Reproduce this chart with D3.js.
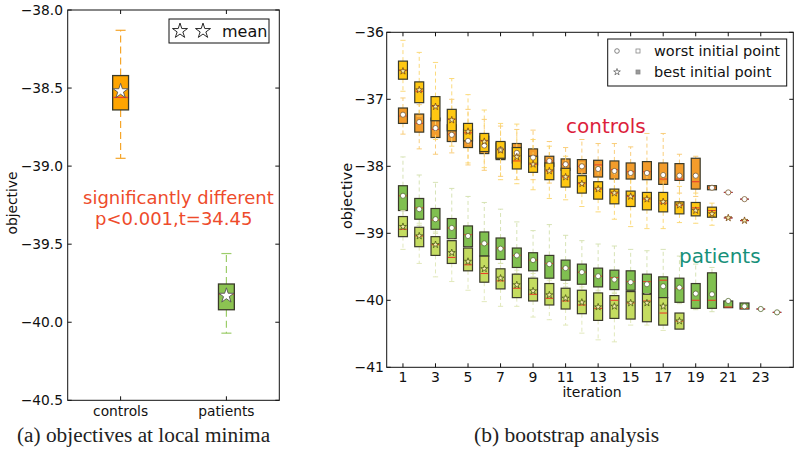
<!DOCTYPE html>
<html><head><meta charset="utf-8">
<script src="https://cdn.jsdelivr.net/npm/d3@7"></script>
<style>body{margin:0;background:#fff}svg{display:block}</style>
</head><body><svg id="c" width="800" height="454"></svg>
<script>
// ---------------- DATA ----------------
// each box: [whiskerLow, q1, median, q3, whiskerHigh, mean]
const groups = ["controls", "patients"];
const minimaControls = [-38.95, -38.64, -38.56, -38.42, -38.13, -38.52];
const minimaPatients = [-40.07, -39.92, -39.82, -39.755, -39.56, -39.83];
const leftYTicks = [-38.0, -38.5, -39.0, -39.5, -40.0, -40.5];

const rightYTicks = [-36, -37, -38, -39, -40, -41];
const iterTicks = [1, 3, 5, 7, 9, 11, 13, 15, 17, 19, 21, 23];

// controls, worst initial point (orange, circle), iterations 1..22
const controlsWorst = [
  [-37.52,-37.36,-37.25,-37.13,-36.98,-37.23],
  [-37.74,-37.49,-37.36,-37.22,-37.08,-37.34],
  [-37.82,-37.57,-37.45,-37.28,-37.05,-37.43],
  [-37.80,-37.63,-37.52,-37.38,-37.00,-37.53],
  [-37.98,-37.72,-37.62,-37.45,-37.15,-37.62],
  [-38.06,-37.81,-37.68,-37.55,-37.30,-37.69],
  [-38.15,-37.90,-37.76,-37.65,-37.40,-37.75],
  [-38.20,-37.95,-37.80,-37.66,-37.45,-37.80],
  [-38.20,-37.98,-37.85,-37.74,-37.46,-37.87],
  [-38.25,-38.00,-37.92,-37.85,-37.63,-37.92],
  [-38.30,-38.06,-37.97,-37.89,-37.72,-37.97],
  [-38.30,-38.11,-38.00,-37.90,-37.60,-38.00],
  [-38.30,-38.16,-37.98,-37.91,-37.66,-38.04],
  [-38.35,-38.19,-38.05,-37.92,-37.66,-38.07],
  [-38.40,-38.19,-38.08,-37.95,-37.71,-38.10],
  [-38.40,-38.20,-38.08,-37.93,-37.51,-38.10],
  [-38.45,-38.27,-38.19,-37.95,-37.51,-38.13],
  [-38.40,-38.21,-38.19,-37.96,-37.82,-38.14],
  [-38.45,-38.34,-38.23,-37.88,-37.85,-38.14],
  [-38.35,-38.35,-38.32,-38.29,-38.29,-38.32],
  [-38.39,-38.39,-38.39,-38.39,-38.39,-38.39],
  [-38.49,-38.49,-38.49,-38.49,-38.49,-38.49]
];
// controls, best initial point (gold, star), iterations 1..22
const controlsBest = [
  [-36.88,-36.70,-36.57,-36.43,-36.12,-36.58],
  [-37.25,-37.05,-36.88,-36.74,-36.30,-36.86],
  [-37.60,-37.32,-37.10,-36.96,-36.45,-37.11],
  [-37.70,-37.47,-37.30,-37.15,-36.69,-37.31],
  [-37.95,-37.62,-37.50,-37.36,-36.93,-37.48],
  [-38.02,-37.78,-37.62,-37.51,-37.16,-37.63],
  [-38.20,-37.88,-37.75,-37.63,-37.36,-37.76],
  [-38.26,-38.04,-37.92,-37.72,-37.37,-37.86],
  [-38.35,-38.09,-37.97,-37.85,-37.60,-37.97],
  [-38.48,-38.20,-38.07,-37.95,-37.70,-38.07],
  [-38.50,-38.31,-38.16,-38.03,-37.85,-38.16],
  [-38.60,-38.40,-38.26,-38.14,-37.95,-38.26],
  [-38.68,-38.49,-38.34,-38.23,-38.00,-38.34],
  [-38.79,-38.56,-38.40,-38.34,-38.10,-38.40],
  [-38.90,-38.60,-38.45,-38.37,-38.10,-38.45],
  [-38.93,-38.65,-38.49,-38.39,-38.10,-38.49],
  [-38.93,-38.68,-38.55,-38.39,-38.10,-38.53],
  [-38.84,-38.71,-38.58,-38.53,-38.30,-38.58],
  [-38.85,-38.74,-38.62,-38.54,-38.40,-38.66],
  [-38.88,-38.76,-38.66,-38.61,-38.55,-38.71],
  [-38.77,-38.77,-38.77,-38.77,-38.77,-38.77],
  [-38.81,-38.81,-38.81,-38.81,-38.81,-38.81]
];
// patients, worst initial point (green, circle), iterations 1..24
const patientsWorst = [
  [-38.75,-38.66,-38.44,-38.29,-37.86,-38.44],
  [-38.88,-38.79,-38.62,-38.48,-38.13,-38.64],
  [-39.00,-38.94,-38.80,-38.63,-38.24,-38.79],
  [-39.10,-39.08,-38.92,-38.78,-38.33,-38.92],
  [-39.21,-39.20,-39.02,-38.89,-38.45,-39.04],
  [-39.34,-39.34,-39.16,-38.98,-38.54,-39.15],
  [-39.45,-39.39,-39.22,-39.07,-38.64,-39.23],
  [-39.60,-39.51,-39.33,-39.22,-38.83,-39.33],
  [-39.65,-39.56,-39.40,-39.29,-38.96,-39.40],
  [-39.75,-39.67,-39.45,-39.33,-38.87,-39.46],
  [-39.80,-39.70,-39.52,-39.40,-39.03,-39.52],
  [-39.85,-39.76,-39.58,-39.46,-39.11,-39.58],
  [-39.88,-39.80,-39.64,-39.52,-39.16,-39.64],
  [-39.90,-39.84,-39.66,-39.55,-39.19,-39.69],
  [-39.87,-39.85,-39.72,-39.56,-39.24,-39.73],
  [-39.90,-39.90,-39.72,-39.61,-39.26,-39.76],
  [-39.96,-39.96,-39.70,-39.65,-39.24,-39.79],
  [-40.05,-40.03,-39.82,-39.67,-39.34,-39.81],
  [-40.14,-40.12,-40.00,-39.75,-39.46,-39.90],
  [-40.17,-40.12,-40.00,-39.59,-39.51,-39.91],
  [-40.11,-40.11,-40.10,-40.01,-40.01,-40.01],
  [-40.13,-40.13,-40.12,-40.04,-40.04,-40.09],
  [-40.13,-40.13,-40.13,-40.13,-40.13,-40.13],
  [-40.18,-40.18,-40.18,-40.18,-40.18,-40.18]
];
// patients, best initial point (light green, star), iterations 1..18
const patientsBest = [
  [-39.24,-39.05,-38.94,-38.75,-38.66,-38.90],
  [-39.45,-39.20,-39.04,-38.91,-38.85,-39.04],
  [-39.65,-39.33,-39.17,-39.05,-38.98,-39.17],
  [-39.72,-39.45,-39.36,-39.11,-39.09,-39.29],
  [-39.85,-39.56,-39.47,-39.22,-39.21,-39.42],
  [-40.02,-39.73,-39.60,-39.34,-39.34,-39.53],
  [-40.09,-39.83,-39.71,-39.53,-39.45,-39.67],
  [-40.09,-39.96,-39.82,-39.61,-39.55,-39.77],
  [-40.25,-40.01,-39.91,-39.67,-39.60,-39.86],
  [-40.29,-40.07,-39.97,-39.75,-39.70,-39.92],
  [-40.37,-40.13,-40.01,-39.82,-39.75,-39.97],
  [-40.49,-40.20,-40.07,-39.85,-39.80,-40.03],
  [-40.59,-40.30,-40.12,-39.89,-39.85,-40.10],
  [-40.62,-40.27,-40.00,-39.93,-39.88,-40.09],
  [-40.37,-40.28,-40.04,-39.87,-39.87,-40.04],
  [-40.37,-40.32,-40.01,-39.91,-39.90,-40.04],
  [-40.45,-40.37,-40.19,-39.96,-39.96,-40.09],
  [-40.43,-40.43,-40.31,-40.19,-40.19,-40.31]
];

// ---------------- DRAWING ----------------
const FONT = "DejaVu Sans";
const svg = d3.select("#c");
const EDGE = "#3a3a2a";
const MED = "#e8402a";

function drawBox(g, xs, ys, pos, s, st) {
  const [lo, q1, med, q3, hi] = s;
  const cx = xs(pos);
  const bw = xs(pos + st.bw / 2) - xs(pos - st.bw / 2);
  const cw = xs(pos + st.cw / 2) - xs(pos - st.cw / 2);
  const wl = (a, b) => g.append("line").attr("x1", cx).attr("x2", cx)
    .attr("y1", ys(a)).attr("y2", ys(b)).attr("stroke", st.wc)
    .attr("stroke-width", st.ww).attr("stroke-dasharray", st.dash);
  const cap = v => g.append("line").attr("x1", cx - cw / 2).attr("x2", cx + cw / 2)
    .attr("y1", ys(v)).attr("y2", ys(v)).attr("stroke", st.wc).attr("stroke-width", st.ww);
  if (hi > q3) { wl(q3, hi); cap(hi); }
  if (lo < q1) { wl(q1, lo); cap(lo); }
  const h = ys(q1) - ys(q3);
  if (h > 0.6) {
    g.append("rect").attr("x", cx - bw / 2).attr("y", ys(q3)).attr("width", bw)
      .attr("height", h).attr("fill", st.fill).attr("stroke", EDGE).attr("stroke-width", st.ew);
  } else {
    g.append("line").attr("x1", cx - bw / 2).attr("x2", cx + bw / 2)
      .attr("y1", ys(med)).attr("y2", ys(med)).attr("stroke", "#5a2a50").attr("stroke-width", 1.2);
  }
  g.append("line").attr("x1", cx - bw / 2 + 0.6).attr("x2", cx + bw / 2 - 0.6)
    .attr("y1", ys(med)).attr("y2", ys(med)).attr("stroke", MED).attr("stroke-width", st.mw);
}

function frame(g, xs, ys) {
  const [x0, x1] = xs.range(), [y0, y1] = ys.range();
  g.append("rect").attr("x", x0).attr("y", y1).attr("width", x1 - x0).attr("height", y0 - y1)
    .attr("fill", "none").attr("stroke", "#111").attr("stroke-width", 1);
}

function ticksAll(g, xs, ys, xt, yt, len) {
  const [x0, x1] = xs.range(), [y0, y1] = ys.range();
  yt.forEach(v => {
    const y = ys(v);
    g.append("line").attr("x1", x0).attr("x2", x0 + len).attr("y1", y).attr("y2", y).attr("stroke", "#111");
    g.append("line").attr("x1", x1).attr("x2", x1 - len).attr("y1", y).attr("y2", y).attr("stroke", "#111");
  });
  xt.forEach(v => {
    const x = xs(v);
    g.append("line").attr("x1", x).attr("x2", x).attr("y1", y0).attr("y2", y0 - len).attr("stroke", "#111");
    g.append("line").attr("x1", x).attr("x2", x).attr("y1", y1).attr("y2", y1 + len).attr("stroke", "#111");
  });
}

// ---------- Left panel ----------
const xL = d3.scaleLinear().domain([0.5, 2.5]).range([67.7, 279.3]);
const yL = d3.scaleLinear().domain([-40.5, -38]).range([400.3, 10]);
const gL = svg.append("g");

const leftStyles = [
  { fill: "#ffa500", wc: "#f5a52a", bw: 0.15, cw: 0.095, ww: 1.2, ew: 1.3, mw: 1.3, dash: "7,4" },
  { fill: "#8cc452", wc: "#9ccd6a", bw: 0.15, cw: 0.095, ww: 1.2, ew: 1.3, mw: 1.3, dash: "7,4" }
];
[minimaControls, minimaPatients].forEach((s, i) => drawBox(gL, xL, yL, i + 1, s, leftStyles[i]));
const star = d3.symbol().type(d3.symbolStar);
[minimaControls, minimaPatients].forEach((s, i) => {
  gL.append("path").attr("d", star.size(70)())
    .attr("transform", `translate(${xL(i + 1)},${yL(s[5])})`)
    .attr("fill", "#fff").attr("stroke", "#555").attr("stroke-width", 0.9);
});
frame(gL, xL, yL);
ticksAll(gL, xL, yL, [1, 2], leftYTicks, 4);
const fmtL = d3.format(".1f");
leftYTicks.forEach(v => gL.append("text").attr("x", 63).attr("y", yL(v)).attr("dy", "0.36em")
  .attr("text-anchor", "end").attr("font-family", FONT).attr("font-size", 13.8).attr("fill", "#111").text(fmtL(v)));
groups.forEach((gname, i) => gL.append("text").attr("x", xL(i + 1)).attr("y", 416)
  .attr("text-anchor", "middle").attr("font-family", FONT).attr("font-size", 13.8).attr("fill", "#111").text(gname));
gL.append("text").attr("transform", "translate(17,203) rotate(-90)").attr("text-anchor", "middle")
  .attr("font-family", FONT).attr("font-size", 13.8).attr("fill", "#111").text("objective");
gL.append("text").attr("x", 83).attr("y", 203.5).attr("font-family", FONT).attr("font-size", 18)
  .attr("fill", "#ee4b2b").text("significantly different");
gL.append("text").attr("x", 95).attr("y", 225).attr("font-family", FONT).attr("font-size", 18)
  .attr("fill", "#ee4b2b").text("p<0.001,t=34.45");
// legend
gL.append("rect").attr("x", 169).attr("y", 19).attr("width", 100).attr("height", 24)
  .attr("fill", "#fff").attr("stroke", "#111").attr("stroke-width", 1);
[180, 203].forEach(x => gL.append("path").attr("d", star.size(70)())
  .attr("transform", `translate(${x},31)`).attr("fill", "#fff").attr("stroke", "#111").attr("stroke-width", 0.9));
gL.append("text").attr("x", 222).attr("y", 36.5).attr("font-family", FONT).attr("font-size", 16)
  .attr("fill", "#111").text("mean");
gL.append("text").attr("x", 17).attr("y", 442).attr("font-family", "Liberation Serif")
  .attr("font-size", 21.3).attr("fill", "#222").text("(a) objectives at local minima");

// ---------- Right panel ----------
const xR = d3.scaleLinear().domain([0, 25]).range([386.7, 793.3]);
const yR = d3.scaleLinear().domain([-41, -36]).range([367.3, 32.3]);
const gR = svg.append("g");
const series = [
  { data: controlsWorst, st: { fill: "#f39c2b", wc: "#f8c86e", bw: 0.55, cw: 0.32, ww: 0.9, ew: 1.2, mw: 1.1, dash: "4,3" }, mk: "circle", ms: "#7a5a30" },
  { data: controlsBest, st: { fill: "#ffc812", wc: "#fad66e", bw: 0.55, cw: 0.32, ww: 0.9, ew: 1.2, mw: 1.1, dash: "4,3" }, mk: "star", ms: "#7a4a10" },
  { data: patientsWorst, st: { fill: "#80c050", wc: "#d3e0ae", bw: 0.55, cw: 0.32, ww: 0.9, ew: 1.2, mw: 1.1, dash: "4,3" }, mk: "circle", ms: "#556b30" },
  { data: patientsBest, st: { fill: "#c4dc60", wc: "#dfe6b6", bw: 0.55, cw: 0.32, ww: 0.9, ew: 1.2, mw: 1.1, dash: "4,3" }, mk: "star", ms: "#4a5a10" }
];
series.forEach(sr => sr.data.forEach((s, i) => drawBox(gR, xR, yR, i + 1, s, sr.st)));
series.forEach(sr => sr.data.forEach((s, i) => {
  const cx = xR(i + 1), cy = yR(s[5]);
  if (sr.mk === "circle") {
    gR.append("circle").attr("cx", cx).attr("cy", cy).attr("r", 2.6)
      .attr("fill", "#fff").attr("stroke", sr.ms).attr("stroke-width", 0.8);
  } else {
    gR.append("path").attr("d", star.size(15)()).attr("transform", `translate(${cx},${cy})`)
      .attr("fill", "#f4ecb0").attr("stroke", sr.ms).attr("stroke-width", 0.8);
  }
}));
frame(gR, xR, yR);
ticksAll(gR, xR, yR, iterTicks, rightYTicks, 4);
const fmtR = d3.format("d");
rightYTicks.forEach(v => gR.append("text").attr("x", 384).attr("y", yR(v)).attr("dy", "0.36em")
  .attr("text-anchor", "end").attr("font-family", FONT).attr("font-size", 14).attr("fill", "#111").text(fmtR(v)));
iterTicks.forEach(v => gR.append("text").attr("x", xR(v)).attr("y", 382)
  .attr("text-anchor", "middle").attr("font-family", FONT).attr("font-size", 14).attr("fill", "#111").text(fmtR(v)));
gR.append("text").attr("x", 592).attr("y", 397).attr("text-anchor", "middle")
  .attr("font-family", FONT).attr("font-size", 14).attr("fill", "#111").text("iteration");
gR.append("text").attr("transform", "translate(352,196) rotate(-90)").attr("text-anchor", "middle")
  .attr("font-family", FONT).attr("font-size", 14.5).attr("fill", "#111").text("objective");
gR.append("text").attr("x", 566).attr("y", 132.5).attr("font-family", FONT).attr("font-size", 20)
  .attr("fill", "#dc1e3c").text("controls");
gR.append("text").attr("x", 679).attr("y", 263).attr("font-family", FONT).attr("font-size", 20)
  .attr("fill", "#17907a").text("patients");
// legend
gR.append("rect").attr("x", 607.7).attr("y", 39).attr("width", 179).attr("height", 47)
  .attr("fill", "#fff").attr("stroke", "#111").attr("stroke-width", 1);
gR.append("circle").attr("cx", 617).attr("cy", 51).attr("r", 2.3).attr("fill", "#fff").attr("stroke", "#666").attr("stroke-width", 0.8);
gR.append("rect").attr("x", 636).attr("y", 49).attr("width", 4).attr("height", 4).attr("fill", "#fff").attr("stroke", "#888").attr("stroke-width", 0.8);
gR.append("path").attr("d", star.size(14)()).attr("transform", "translate(617,72)").attr("fill", "#fff").attr("stroke", "#666").attr("stroke-width", 0.8);
gR.append("rect").attr("x", 636).attr("y", 70).attr("width", 4).attr("height", 4).attr("fill", "#999").attr("stroke", "#888").attr("stroke-width", 0.8);
gR.append("text").attr("x", 654).attr("y", 56).attr("font-family", FONT).attr("font-size", 14.5).attr("fill", "#111").text("worst initial point");
gR.append("text").attr("x", 654).attr("y", 76.5).attr("font-family", FONT).attr("font-size", 14.5).attr("fill", "#111").text("best initial point");
gR.append("text").attr("x", 474).attr("y", 442).attr("font-family", "Liberation Serif")
  .attr("font-size", 21.5).attr("fill", "#222").text("(b) bootstrap analysis");
</script></body></html>
